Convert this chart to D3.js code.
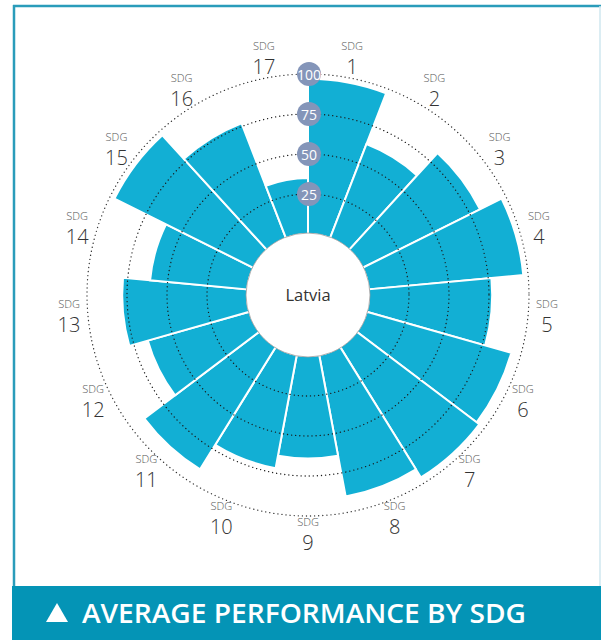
<!DOCTYPE html>
<html>
<head>
<meta charset="utf-8">
<script src="https://cdn.jsdelivr.net/npm/d3@7/dist/d3.min.js"></script>
<style>
  html, body { margin: 0; padding: 0; background: #fff; }
  svg { display: block; }
</style>
</head>
<body>
<svg id="chart" width="601" height="640"></svg>
<script>
// Average performance by SDG, Latvia (score 0-100)
const goals = ["1","2","3","4","5","6","7","8","9","10","11","12","13","14","15","16","17"];
const scores = [97, 63, 82, 97, 77, 94, 96, 90, 64, 72, 90, 66, 78, 61, 97, 77, 35];
const ringTicks = [25, 50, 75, 100];
const countryName = "Latvia";
const bannerTitle = "AVERAGE PERFORMANCE BY SDG";

const svg = d3.select("#chart");
const W = 601, H = 640;
const cx = 308, cy = 295;
const inner = 61, outer = 221;

// frame
svg.append("line").attr("x1", 13).attr("x2", 601).attr("y1", 6).attr("y2", 6)
  .attr("stroke", "#2a9cba").attr("stroke-width", 2.5);
svg.append("line").attr("x1", 14).attr("x2", 14).attr("y1", 5).attr("y2", 586)
  .attr("stroke", "#2a9cba").attr("stroke-width", 2.5);
svg.append("line").attr("x1", 600).attr("x2", 600).attr("y1", 6).attr("y2", 586)
  .attr("stroke", "#cfe7ef").attr("stroke-width", 1.5);

const g = svg.append("g").attr("transform", `translate(${cx},${cy})`);

const angle = d3.scaleBand().domain(goals).range([0, 2 * Math.PI]).padding(0);
const radius = d3.scaleLinear().domain([0, 100]).range([inner, outer]);

const arc = d3.arc()
  .innerRadius(inner)
  .outerRadius(d => radius(d.v))
  .startAngle(d => angle(d.k))
  .endAngle(d => angle(d.k) + angle.bandwidth());

const data = goals.map((k, i) => ({ k, v: scores[i] }));

// bars
g.append("g").selectAll("path").data(data).join("path")
  .attr("d", arc)
  .attr("fill", "#12afd4")
  .attr("stroke", "#fff")
  .attr("stroke-width", 2)
  .attr("stroke-linejoin", "miter");

// dotted reference rings
g.append("g").selectAll("circle").data(ringTicks).join("circle")
  .attr("r", d => radius(d))
  .attr("fill", "none")
  .attr("stroke", d => d === 100 ? "#333" : "#1a1a1a")
  .attr("stroke-width", 1.3)
  .attr("stroke-linecap", "round")
  .attr("stroke-dasharray", "0.1 4");

// centre disc
g.append("circle").attr("r", 62)
  .attr("fill", "#fff").attr("stroke", "#9a9a9a").attr("stroke-width", 0.8);
g.append("text").text(countryName)
  .attr("x", 0).attr("y", 2)
  .attr("text-anchor", "middle").attr("dominant-baseline", "middle")
  .attr("font-family", "'Open Sans', 'Noto Sans', sans-serif")
  .attr("font-size", 16.5).attr("fill", "#333");

// ring value badges
const badges = g.append("g").selectAll("g").data(ringTicks).join("g")
  .attr("transform", d => `translate(1,${-radius(d)})`);
badges.append("circle").attr("r", 12).attr("fill", "#8495b9");
badges.append("text").text(d => d)
  .attr("text-anchor", "middle").attr("dominant-baseline", "central")
  .attr("y", 0.5)
  .attr("font-family", "'Liberation Sans Narrow', 'Open Sans', sans-serif")
  .attr("font-size", 14).attr("fill", "#fff");

// goal labels around the rim
const labelR = 240;
const labels = g.append("g").selectAll("g").data(goals).join("g")
  .attr("transform", d => {
    const a = angle(d) + angle.bandwidth() / 2;
    return `translate(${Math.sin(a) * labelR},${-Math.cos(a) * labelR})`;
  });
labels.append("text").text("SDG")
  .attr("y", -9).attr("text-anchor", "middle")
  .attr("font-family", "'Open Sans', 'Noto Sans', sans-serif")
  .attr("font-weight", 300)
  .attr("font-size", 11).attr("fill", "#555");
labels.append("text").text(d => d)
  .attr("y", 15).attr("text-anchor", "middle")
  .attr("font-family", "'Open Sans', 'Noto Sans', sans-serif")
  .attr("font-weight", 300)
  .attr("font-size", 20).attr("fill", "#333");

// title banner
svg.append("rect").attr("x", 12).attr("y", 586).attr("width", W - 12).attr("height", H - 586)
  .attr("fill", "#0494b6");
svg.append("path")
  .attr("d", d3.line()([[46, 622], [68, 622], [57, 603]]) + "Z")
  .attr("fill", "#fff");
svg.append("text").text(bannerTitle)
  .attr("x", 82).attr("y", 623)
  .attr("textLength", 444).attr("lengthAdjust", "spacingAndGlyphs")
  .attr("font-family", "'Open Sans', 'Noto Sans', sans-serif")
  .attr("font-weight", 600)
  .attr("font-size", 27).attr("fill", "#fff");
</script>
</body>
</html>
